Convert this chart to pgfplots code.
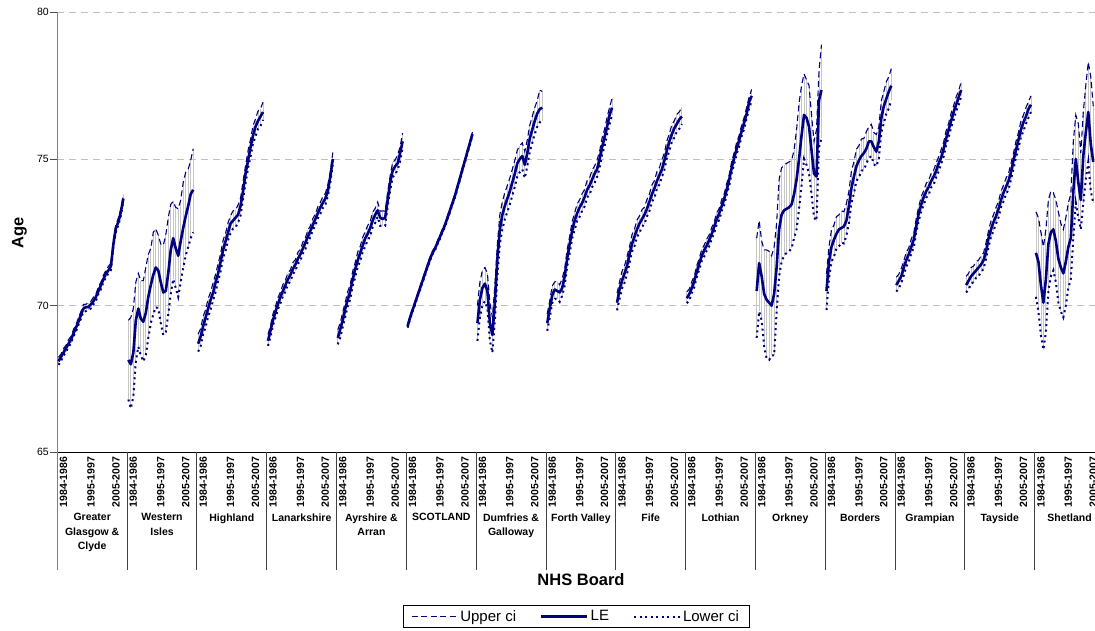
\documentclass[border=0pt]{standalone}
\usepackage{fontspec}
\setmainfont{Liberation Sans}
\usepackage{pgfplots}
\usepackage{pgfplotstable}
\pgfplotsset{compat=1.18}
\definecolor{navy}{RGB}{0,0,128}
\definecolor{hl}{RGB}{198,198,198}
\definecolor{gridc}{RGB}{192,192,192}
\definecolor{axgray}{RGB}{128,128,128}
\pgfplotstableread{
x lo le up
0 67.98 68.10 68.24
1 68.11 68.25 68.35
2 68.30 68.40 68.54
3 68.41 68.55 68.65
4 68.60 68.70 68.84
5 68.71 68.85 68.95
6 68.95 69.05 69.19
7 69.11 69.25 69.35
8 69.35 69.45 69.59
9 69.56 69.70 69.80
10 69.80 69.90 70.04
11 69.81 69.95 70.05
12 69.85 69.95 70.09
13 69.91 70.05 70.15
14 70.05 70.15 70.29
15 70.16 70.30 70.40
16 70.40 70.50 70.64
17 70.56 70.70 70.80
18 70.80 70.90 71.04
19 70.96 71.10 71.20
20 71.10 71.20 71.34
21 71.21 71.35 71.45
22 72.00 72.10 72.24
23 72.51 72.65 72.75
24 72.75 72.85 72.99
25 73.06 73.20 73.30
26 73.55 73.65 73.79
27 nan nan nan
28 66.80 68.15 69.50
29 66.50 68.00 69.60
30 66.90 68.40 69.90
31 68.10 69.50 70.80
32 68.60 69.90 71.10
33 68.30 69.55 70.85
34 68.10 69.45 70.85
35 68.30 69.75 71.30
36 68.90 70.30 71.75
37 69.40 70.70 71.95
38 69.70 71.05 72.50
39 69.95 71.30 72.62
40 69.90 71.20 72.40
41 69.40 70.80 72.10
42 69.00 70.45 72.05
43 69.10 70.50 72.40
44 69.70 71.10 73.00
45 70.40 71.90 73.45
46 70.90 72.30 73.55
47 70.60 71.95 73.35
48 70.30 71.70 73.30
49 70.80 72.20 73.60
50 71.30 72.65 74.20
51 71.70 73.05 74.55
52 72.00 73.40 74.65
53 72.30 73.80 74.95
54 72.50 73.95 75.35
55 nan nan nan
56 68.43 68.70 69.03
57 68.62 68.95 69.22
58 69.03 69.30 69.63
59 69.27 69.60 69.87
60 69.63 69.90 70.23
61 69.87 70.20 70.47
62 70.18 70.45 70.78
63 70.47 70.80 71.07
64 70.83 71.10 71.43
65 71.17 71.50 71.77
66 71.63 71.90 72.23
67 71.87 72.20 72.47
68 72.23 72.50 72.83
69 72.47 72.80 73.07
70 72.63 72.90 73.23
71 72.67 73.00 73.27
72 72.83 73.10 73.43
73 73.07 73.40 73.67
74 73.63 73.90 74.23
75 74.17 74.50 74.77
76 74.68 74.95 75.28
77 75.07 75.40 75.67
78 75.53 75.80 76.13
79 75.77 76.10 76.37
80 76.03 76.30 76.63
81 76.12 76.45 76.72
82 76.33 76.60 76.93
83 nan nan nan
84 68.63 68.80 69.02
85 68.93 69.15 69.32
86 69.33 69.50 69.72
87 69.58 69.80 69.97
88 69.88 70.05 70.27
89 70.08 70.30 70.47
90 70.33 70.50 70.72
91 70.48 70.70 70.87
92 70.73 70.90 71.12
93 70.83 71.05 71.22
94 71.08 71.25 71.47
95 71.18 71.40 71.57
96 71.43 71.60 71.82
97 71.53 71.75 71.92
98 71.78 71.95 72.17
99 71.93 72.15 72.32
100 72.18 72.35 72.57
101 72.33 72.55 72.72
102 72.58 72.75 72.97
103 72.73 72.95 73.12
104 72.98 73.15 73.37
105 73.13 73.35 73.52
106 73.33 73.50 73.72
107 73.43 73.65 73.82
108 73.73 73.90 74.12
109 74.18 74.40 74.57
110 74.83 75.00 75.22
111 nan nan nan
112 68.68 68.90 69.18
113 68.92 69.20 69.42
114 69.28 69.50 69.78
115 69.62 69.90 70.12
116 69.98 70.20 70.48
117 70.22 70.50 70.72
118 70.68 70.90 71.18
119 70.97 71.25 71.47
120 71.33 71.55 71.83
121 71.52 71.80 72.02
122 71.83 72.05 72.33
123 72.02 72.30 72.52
124 72.23 72.45 72.73
125 72.37 72.65 72.87
126 72.68 72.90 73.18
127 72.82 73.10 73.32
128 73.03 73.25 73.53
129 72.72 73.00 73.22
130 72.73 72.95 73.23
131 72.72 73.00 73.22
132 73.38 73.60 73.88
133 73.92 74.20 74.42
134 74.38 74.60 74.88
135 74.47 74.75 74.97
136 74.63 74.85 75.13
137 74.92 75.20 75.42
138 75.38 75.60 75.88
139 nan nan nan
140 69.25 69.30 69.37
141 69.53 69.60 69.65
142 69.80 69.85 69.92
143 70.03 70.10 70.15
144 70.30 70.35 70.42
145 70.53 70.60 70.65
146 70.80 70.85 70.92
147 71.03 71.10 71.15
148 71.30 71.35 71.42
149 71.53 71.60 71.65
150 71.75 71.80 71.87
151 71.88 71.95 72.00
152 72.10 72.15 72.22
153 72.28 72.35 72.40
154 72.50 72.55 72.62
155 72.68 72.75 72.80
156 72.95 73.00 73.07
157 73.18 73.25 73.30
158 73.45 73.50 73.57
159 73.68 73.75 73.80
160 74.00 74.05 74.12
161 74.28 74.35 74.40
162 74.60 74.65 74.72
163 74.88 74.95 75.00
164 75.20 75.25 75.32
165 75.48 75.55 75.60
166 75.80 75.85 75.92
167 nan nan nan
168 68.80 69.40 70.00
169 69.60 70.20 70.80
170 70.00 70.60 71.20
171 70.15 70.75 71.30
172 69.90 70.50 71.10
173 68.80 69.40 70.10
174 68.40 69.00 69.60
175 69.50 70.10 70.70
176 71.00 71.60 72.10
177 72.10 72.60 73.10
178 72.60 73.10 73.55
179 72.95 73.40 73.85
180 73.20 73.65 74.10
181 73.45 73.90 74.35
182 73.75 74.20 74.65
183 74.05 74.50 74.95
184 74.40 74.85 75.30
185 74.55 75.00 75.45
186 74.65 75.10 75.55
187 74.35 74.80 75.25
188 74.75 75.20 75.65
189 75.25 75.70 76.15
190 75.55 76.00 76.45
191 75.85 76.30 76.75
192 76.10 76.55 77.00
193 76.25 76.70 77.35
194 76.30 76.75 77.30
195 nan nan nan
196 69.14 69.40 69.72
197 69.58 69.90 70.16
198 70.09 70.35 70.67
199 70.23 70.55 70.81
200 70.24 70.50 70.82
201 70.13 70.45 70.71
202 70.34 70.60 70.92
203 70.68 71.00 71.26
204 71.34 71.60 71.92
205 71.78 72.10 72.36
206 72.29 72.55 72.87
207 72.58 72.90 73.16
208 72.89 73.15 73.47
209 73.03 73.35 73.61
210 73.24 73.50 73.82
211 73.38 73.70 73.96
212 73.69 73.95 74.27
213 73.78 74.10 74.36
214 74.04 74.30 74.62
215 74.18 74.50 74.76
216 74.39 74.65 74.97
217 74.68 75.00 75.26
218 75.14 75.40 75.72
219 75.43 75.75 76.01
220 75.84 76.10 76.42
221 76.18 76.50 76.76
222 76.49 76.75 77.07
223 nan nan nan
224 69.84 70.10 70.42
225 70.23 70.55 70.81
226 70.59 70.85 71.17
227 70.78 71.10 71.36
228 71.09 71.35 71.67
229 71.43 71.75 72.01
230 71.84 72.10 72.42
231 72.03 72.35 72.61
232 72.34 72.60 72.92
233 72.48 72.80 73.06
234 72.69 72.95 73.27
235 72.78 73.10 73.36
236 73.04 73.30 73.62
237 73.23 73.55 73.81
238 73.54 73.80 74.12
239 73.68 74.00 74.26
240 73.99 74.25 74.57
241 74.13 74.45 74.71
242 74.39 74.65 74.97
243 74.63 74.95 75.21
244 75.04 75.30 75.62
245 75.28 75.60 75.86
246 75.59 75.85 76.17
247 75.73 76.05 76.31
248 75.94 76.20 76.52
249 76.03 76.35 76.61
250 76.19 76.45 76.77
251 nan nan nan
252 70.08 70.25 70.47
253 70.18 70.40 70.57
254 70.43 70.60 70.82
255 70.63 70.85 71.02
256 70.98 71.15 71.37
257 71.23 71.45 71.62
258 71.53 71.70 71.92
259 71.68 71.90 72.07
260 71.88 72.05 72.27
261 72.03 72.25 72.42
262 72.28 72.45 72.67
263 72.48 72.70 72.87
264 72.78 72.95 73.17
265 72.93 73.15 73.32
266 73.23 73.40 73.62
267 73.43 73.65 73.82
268 73.78 73.95 74.17
269 74.08 74.30 74.47
270 74.53 74.70 74.92
271 74.83 75.05 75.22
272 75.18 75.35 75.57
273 75.43 75.65 75.82
274 75.78 75.95 76.17
275 76.03 76.25 76.42
276 76.38 76.55 76.77
277 76.73 76.95 77.12
278 76.98 77.15 77.37
279 nan nan nan
280 68.90 70.50 72.30
281 69.80 71.45 72.90
282 69.50 71.00 72.20
283 68.60 70.40 71.90
284 68.20 70.20 71.90
285 68.15 70.10 71.85
286 68.30 70.00 71.70
287 68.30 70.40 72.00
288 69.80 71.30 72.80
289 71.00 72.60 74.30
290 71.50 73.10 74.70
291 71.70 73.25 74.80
292 71.80 73.30 74.85
293 71.85 73.35 74.90
294 71.95 73.45 74.95
295 72.30 73.80 75.30
296 72.60 74.30 76.00
297 73.30 75.00 76.90
298 74.10 75.80 77.50
299 75.00 76.50 77.90
300 74.80 76.40 77.70
301 74.50 76.10 77.50
302 73.80 75.30 76.50
303 73.00 74.50 75.60
304 72.90 74.40 76.00
305 75.40 77.00 78.00
306 75.70 77.35 78.90
307 nan nan nan
308 69.85 70.50 71.08
309 70.92 71.50 72.00
310 71.50 72.00 72.58
311 71.67 72.25 72.75
312 71.95 72.45 73.03
313 72.02 72.60 73.10
314 72.15 72.65 73.23
315 72.12 72.70 73.20
316 72.40 72.90 73.48
317 72.82 73.40 73.90
318 73.50 74.00 74.58
319 73.82 74.40 74.90
320 74.25 74.75 75.33
321 74.37 74.95 75.45
322 74.60 75.10 75.68
323 74.62 75.20 75.70
324 74.85 75.35 75.93
325 75.02 75.60 76.10
326 75.10 75.60 76.18
327 74.82 75.40 75.90
328 74.75 75.25 75.83
329 75.02 75.60 76.10
330 75.90 76.40 76.98
331 76.22 76.80 77.30
332 76.55 77.05 77.63
333 76.72 77.30 77.80
334 77.00 77.50 78.08
335 nan nan nan
336 70.48 70.70 70.97
337 70.58 70.85 71.07
338 70.78 71.00 71.27
339 71.03 71.30 71.52
340 71.33 71.55 71.82
341 71.48 71.75 71.97
342 71.78 72.00 72.27
343 71.98 72.25 72.47
344 72.48 72.70 72.97
345 72.88 73.15 73.37
346 73.23 73.45 73.72
347 73.43 73.70 73.92
348 73.68 73.90 74.17
349 73.78 74.05 74.27
350 74.03 74.25 74.52
351 74.13 74.40 74.62
352 74.38 74.60 74.87
353 74.58 74.85 75.07
354 74.83 75.05 75.32
355 75.08 75.35 75.57
356 75.48 75.70 75.97
357 75.73 76.00 76.22
358 76.08 76.30 76.57
359 76.33 76.60 76.82
360 76.63 76.85 77.12
361 76.83 77.10 77.32
362 77.13 77.35 77.62
363 nan nan nan
364 70.45 70.70 71.00
365 70.55 70.85 71.10
366 70.75 71.00 71.30
367 70.80 71.10 71.35
368 70.95 71.20 71.50
369 71.00 71.30 71.55
370 71.15 71.40 71.70
371 71.25 71.55 71.80
372 71.60 71.85 72.15
373 72.00 72.30 72.55
374 72.35 72.60 72.90
375 72.55 72.85 73.10
376 72.80 73.05 73.35
377 73.00 73.30 73.55
378 73.35 73.60 73.90
379 73.55 73.85 74.10
380 73.80 74.05 74.35
381 73.95 74.25 74.50
382 74.30 74.55 74.85
383 74.65 74.95 75.20
384 75.05 75.30 75.60
385 75.35 75.65 75.90
386 75.75 76.00 76.30
387 75.95 76.25 76.50
388 76.20 76.45 76.75
389 76.40 76.70 76.95
390 76.60 76.85 77.15
391 nan nan nan
392 70.30 71.80 73.20
393 69.80 71.50 73.00
394 69.00 70.70 72.50
395 68.50 70.10 72.00
396 69.10 70.90 72.60
397 70.50 72.10 73.60
398 71.00 72.50 73.90
399 71.20 72.60 73.85
400 70.80 72.20 73.60
401 70.10 71.60 73.20
402 69.80 71.30 72.80
403 69.60 71.10 72.60
404 70.00 71.50 73.00
405 70.60 72.00 73.50
406 70.90 72.30 73.80
407 72.30 73.90 75.60
408 73.50 75.00 76.50
409 73.00 74.20 76.20
410 72.60 73.60 75.20
411 73.50 75.10 76.60
412 74.30 75.90 77.50
413 74.90 76.60 78.30
414 73.90 75.50 77.80
415 73.50 74.90 76.80
}\data

\begin{document}
\begin{tikzpicture}
\begin{axis}[
  scale only axis, width=1037.7pt, height=440pt,
  at={(0pt,0pt)}, anchor=south west,
  xmin=-0.5, xmax=415.7, ymin=65, ymax=80,
  clip=false,
  unbounded coords=jump,
  axis x line*=bottom, axis y line*=left,
  x axis line style={black, line width=0.9pt},
  y axis line style={axgray, line width=1.5pt},
  xtick=\empty,
  ytick={65,70,75,80},
  ymajorgrids,
  grid style={gridc, dash pattern=on 7pt off 5pt, line width=0.7pt},
  tick align=outside, major tick length=7pt,
  tick style={black!70, line width=0.8pt},
  /pgf/number format/assume math mode=true,
  yticklabel style={font=\fontsize{10.5}{12}\selectfont, xshift=2pt},
  ylabel={Age},
  ylabel style={at={(axis description cs:-0.0364,0.4995)}, anchor=center, font=\bfseries\fontsize{16.5}{19}\selectfont},
  xlabel={NHS Board},
  xlabel style={at={(axis description cs:0.5047,-0.290)}, anchor=center, font=\bfseries\fontsize{16.5}{19}\selectfont},
  legend columns=3,
  legend image code/.code={\draw[#1] (0pt,0pt) -- (46pt,0pt);},
  legend style={at={(axis description cs:0.4999,-0.3732)}, anchor=center,
    draw=black, line width=0.8pt, font=\fontsize{15}{17}\selectfont,
    inner xsep=8pt, inner ysep=3pt,
    /tikz/every even column/.append style={column sep=22pt}},
]
\addplot[draw=none, mark=none, forget plot,
  error bars/.cd, y dir=plus, y explicit, error mark=none,
  error bar style={draw=hl, line width=0.8pt, solid}]
  table[x=x, y=lo, y error expr=\thisrow{up}-\thisrow{lo}] {\data};
\addplot[navy, mark=none, line width=1.1pt, dash pattern=on 6pt off 3.5pt] table[x=x, y=up] {\data};
\addlegendentry{Upper ci}
\addplot[navy, mark=none, line width=2.6pt, line join=round] table[x=x, y=le] {\data};
\addlegendentry{LE}
\addplot[navy, mark=none, line width=2pt, dash pattern=on 2pt off 3.5pt] table[x=x, y=lo] {\data};
\addlegendentry{Lower ci}

\draw[axgray, line width=1.5pt] (axis cs:-0.5,65) -- ++(0pt,-118pt);
\pgfplotsinvokeforeach{1,...,14}{
  \draw[black!75, line width=0.9pt] (axis cs:28*#1-0.5,65) -- ++(0pt,-118pt);
}
\pgfplotsinvokeforeach{0,...,14}{
  \node[rotate=90, anchor=east, inner xsep=4.5pt, inner ysep=0pt, font=\bfseries\fontsize{10.5}{12}\selectfont] at (axis cs:28*#1+2,65) {1984-1986};
  \node[rotate=90, anchor=east, inner xsep=4.5pt, inner ysep=0pt, font=\bfseries\fontsize{10.5}{12}\selectfont] at (axis cs:28*#1+13,65) {1995-1997};
  \node[rotate=90, anchor=east, inner xsep=4.5pt, inner ysep=0pt, font=\bfseries\fontsize{10.5}{12}\selectfont] at (axis cs:28*#1+23,65) {2005-2007};
}
\tikzset{gname/.style={anchor=north, align=center, inner sep=0pt, yshift=-61pt, font=\bfseries\fontsize{10.5}{14.3}\selectfont}}
\node[gname] at (axis cs:13.5,65) {Greater\\Glasgow \&\\Clyde};
\node[gname] at (axis cs:41.5,65) {Western\\Isles};
\node[gname] at (axis cs:69.5,65) {Highland};
\node[gname] at (axis cs:97.5,65) {Lanarkshire};
\node[gname] at (axis cs:125.5,65) {Ayrshire \&\\Arran};
\node[gname] at (axis cs:153.5,65) {SCOTLAND};
\node[gname] at (axis cs:181.5,65) {Dumfries \&\\Galloway};
\node[gname] at (axis cs:209.5,65) {Forth Valley};
\node[gname] at (axis cs:237.5,65) {Fife};
\node[gname] at (axis cs:265.5,65) {Lothian};
\node[gname] at (axis cs:293.5,65) {Orkney};
\node[gname] at (axis cs:321.5,65) {Borders};
\node[gname] at (axis cs:349.5,65) {Grampian};
\node[gname] at (axis cs:377.5,65) {Tayside};
\node[gname] at (axis cs:405.5,65) {Shetland};
\end{axis}
\pgfresetboundingbox
\path[use as bounding box] (-57.3pt,-178.7pt) rectangle (1037.7pt,452.3pt);
\end{tikzpicture}
\end{document}
